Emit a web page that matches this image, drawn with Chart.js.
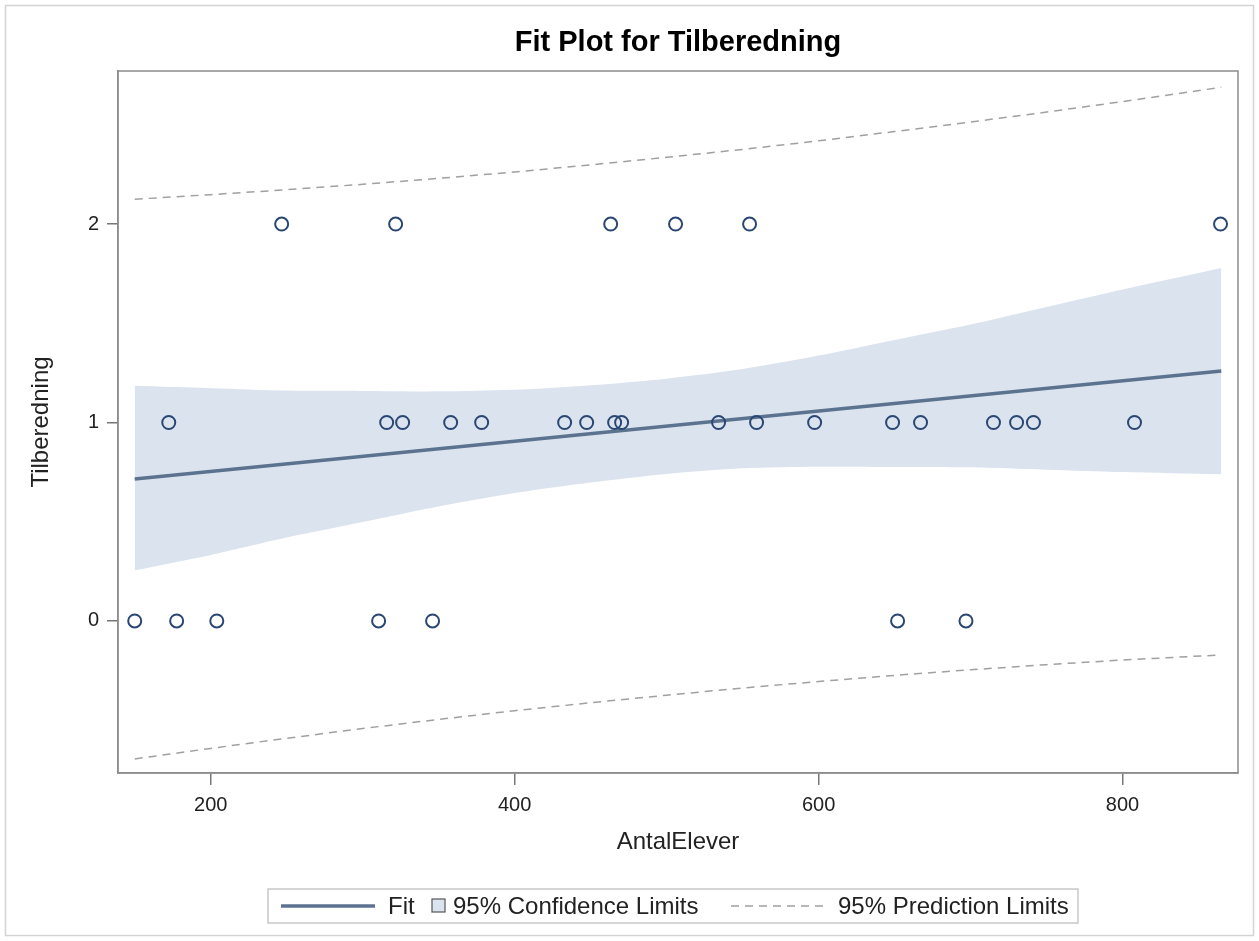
<!DOCTYPE html>
<html>
<head>
<meta charset="utf-8">
<title>Fit Plot for Tilberedning</title>
<script src="https://cdn.jsdelivr.net/npm/chart.js@4.4.1/dist/chart.umd.min.js"></script>
<style>
  html, body { margin: 0; padding: 0; background: #fff; }
  #wrap { width: 1259px; height: 941px; }
</style>
</head>
<body>
<div id="wrap"><canvas id="fitPlot" width="1259" height="941"></canvas></div>
<script>
// Observations: AntalElever against Tilberedning
const obsX = [150, 177.6, 204, 310.5, 346, 652, 697,
  172.4, 315.8, 326.3, 357.9, 378.3, 432.9, 447.4, 465.8, 470.4, 534.2,
  559.2, 597.4, 648.7, 667.1, 715.1, 730.3, 741.4, 807.9,
  246.7, 321.7, 463.2, 505.9, 554.6, 864.5];
const obsY = [0, 0, 0, 0, 0, 0, 0,
  1, 1, 1, 1, 1, 1, 1, 1, 1, 1,
  1, 1, 1, 1, 1, 1, 1, 1,
  2, 2, 2, 2, 2, 2];

// Fitted regression line (end points)
const fitX = [150, 865];
const fitY = [0.715, 1.259];

// Confidence and prediction limits along AntalElever
const limitX = [150, 200, 250, 300, 350, 400, 450, 500, 550, 600, 650, 700, 750, 800, 865];
const confUpper = [1.185, 1.173, 1.161, 1.159, 1.157, 1.165, 1.188, 1.221, 1.269, 1.337, 1.416, 1.494, 1.582, 1.670, 1.779];
const confLower = [0.255, 0.333, 0.421, 0.499, 0.577, 0.645, 0.698, 0.741, 0.769, 0.777, 0.776, 0.774, 0.762, 0.750, 0.739];
const predUpper = [2.125, 2.148, 2.173, 2.200, 2.230, 2.262, 2.298, 2.336, 2.376, 2.419, 2.466, 2.514, 2.564, 2.617, 2.689];
const predLower = [-0.695, -0.642, -0.591, -0.542, -0.496, -0.452, -0.412, -0.374, -0.338, -0.305, -0.274, -0.246, -0.220, -0.197, -0.171];

// Axis ticks
const xTicks = [200, 400, 600, 800];
const yTicks = [0, 1, 2];

const FONT = '"Liberation Sans", Arial, sans-serif';
const bandColor = '#dbe3ef';
const fitColor = '#5c7390';
const markerColor = '#2a4673';
const predColor = '#a0a0a0';

const pairs = (xs, ys) => xs.map((x, i) => ({ x: x, y: ys[i] }));

// Title, frame, axis titles and legend drawn around the chart area
const sasDecor = {
  id: 'sasDecor',
  beforeDraw(chart) {
    const c = chart.ctx;
    c.save();
    c.fillStyle = '#fff';
    c.fillRect(0, 0, chart.width, chart.height);
    c.strokeStyle = '#d4d4d4';
    c.lineWidth = 1.5;
    c.strokeRect(5.5, 5.5, chart.width - 11, chart.height - 11);
    c.restore();
  },
  afterDraw(chart) {
    const c = chart.ctx;
    const a = chart.chartArea;
    const midX = (a.left + a.right) / 2;
    c.save();

    // plot frame
    c.strokeStyle = '#8c8c8c';
    c.lineWidth = 1.5;
    c.strokeRect(a.left, a.top, a.right - a.left, a.bottom - a.top);

    // title
    c.fillStyle = '#000';
    c.textAlign = 'center';
    c.textBaseline = 'middle';
    c.font = 'bold 29px ' + FONT;
    c.fillText('Fit Plot for Tilberedning', midX, 43);

    // axis titles
    c.fillStyle = '#222';
    c.font = '24px ' + FONT;
    c.fillText('AntalElever', midX, 842);
    c.save();
    c.translate(41, (a.top + a.bottom) / 2);
    c.rotate(-Math.PI / 2);
    c.fillText('Tilberedning', 0, 0);
    c.restore();

    // legend
    c.font = '24px ' + FONT;
    c.textAlign = 'left';
    const y = 906;
    c.strokeStyle = '#c8c8c8';
    c.lineWidth = 1.5;
    c.strokeRect(268, 889, 810, 34);

    c.strokeStyle = fitColor;
    c.lineWidth = 3.5;
    c.beginPath(); c.moveTo(281, y); c.lineTo(375, y); c.stroke();
    c.fillStyle = '#222';
    c.fillText('Fit', 388, y + 1);
    c.fillStyle = bandColor;
    c.fillRect(432, y - 7, 13, 13);
    c.strokeStyle = '#555';
    c.lineWidth = 1.2;
    c.strokeRect(432, y - 7, 13, 13);
    c.fillStyle = '#222';
    c.fillText('95% Confidence Limits', 453, y + 1);
    c.strokeStyle = predColor;
    c.lineWidth = 1.5;
    c.setLineDash([8, 6]);
    c.beginPath(); c.moveTo(731, y); c.lineTo(823, y); c.stroke();
    c.setLineDash([]);
    c.fillText('95% Prediction Limits', 838, y + 1);

    c.restore();
  }
};

new Chart(document.getElementById('fitPlot'), {
  type: 'scatter',
  data: {
    datasets: [
      {
        label: 'Tilberedning',
        data: pairs(obsX, obsY),
        pointStyle: 'circle',
        pointRadius: 6.5,
        pointBorderWidth: 2,
        pointBorderColor: markerColor,
        pointBackgroundColor: 'rgba(0,0,0,0)',
        showLine: false
      },
      {
        label: 'Fit',
        data: pairs(fitX, fitY),
        showLine: true,
        borderColor: fitColor,
        borderWidth: 3.5,
        pointRadius: 0,
        fill: false
      },
      {
        label: '95% Prediction Limits',
        data: pairs(limitX, predUpper),
        showLine: true,
        borderColor: predColor,
        borderWidth: 1.5,
        borderDash: [8, 6],
        pointRadius: 0,
        fill: false
      },
      {
        label: 'Lower prediction',
        data: pairs(limitX, predLower),
        showLine: true,
        borderColor: predColor,
        borderWidth: 1.5,
        borderDash: [8, 6],
        pointRadius: 0,
        fill: false
      },
      {
        label: '95% Confidence Limits',
        data: pairs(limitX, confUpper),
        showLine: true,
        borderWidth: 0,
        borderColor: 'rgba(0,0,0,0)',
        backgroundColor: bandColor,
        pointRadius: 0,
        tension: 0.3,
        fill: '+1'
      },
      {
        label: 'Lower confidence',
        data: pairs(limitX, confLower),
        showLine: true,
        borderWidth: 0,
        borderColor: 'rgba(0,0,0,0)',
        pointRadius: 0,
        tension: 0.3,
        fill: false
      }
    ]
  },
  options: {
    responsive: false,
    animation: false,
    devicePixelRatio: 1,
    layout: { padding: { top: 71, right: 21, bottom: 0, left: 0 } },
    plugins: {
      legend: { display: false },
      title: { display: false },
      tooltip: { enabled: false }
    },
    scales: {
      x: {
        type: 'linear',
        min: 139,
        max: 876,
        afterFit: s => { s.height = 941 - 773; },
        afterBuildTicks: s => { s.ticks = xTicks.map(v => ({ value: v })); },
        grid: { display: true, drawOnChartArea: false, drawTicks: true, tickLength: 12, color: '#777', lineWidth: 1.5 },
        border: { display: true, color: '#8c8c8c', width: 1.5 },
        ticks: { color: '#222', padding: 8, font: { family: FONT, size: 20 }, maxRotation: 0 }
      },
      y: {
        type: 'linear',
        min: -0.766,
        max: 2.771,
        afterFit: s => { s.width = 118; },
        afterBuildTicks: s => { s.ticks = yTicks.map(v => ({ value: v })); },
        grid: { display: true, drawOnChartArea: false, drawTicks: true, tickLength: 11, color: '#777', lineWidth: 1.5 },
        border: { display: true, color: '#8c8c8c', width: 1.5 },
        ticks: { color: '#222', padding: 8, font: { family: FONT, size: 20 } }
      }
    }
  },
  plugins: [sasDecor]
});
</script>
</body>
</html>
